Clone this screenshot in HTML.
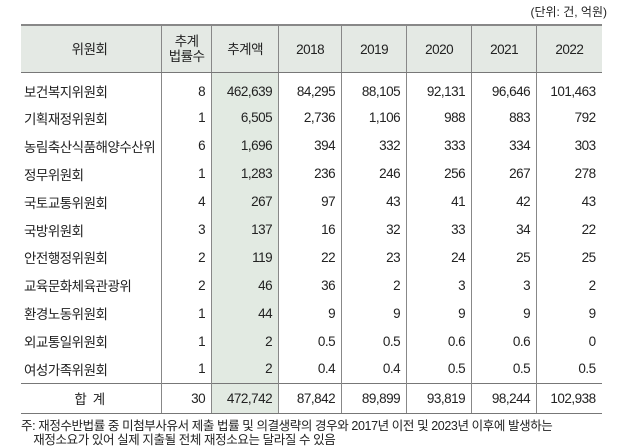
<!DOCTYPE html><html><head><meta charset="utf-8"><style>
body{margin:0;width:621px;height:448px;background:#fff;font-family:"Liberation Sans","Noto Sans CJK KR",sans-serif;color:#222;position:relative;overflow:hidden}
.unit{position:absolute;right:14px;top:3px;font-size:12px}
table{position:absolute;left:21px;top:24px;border-collapse:collapse;font-size:13.5px;letter-spacing:-0.5px}
td,th{padding:0 6px;height:27.9px;border-left:1px solid #888;white-space:nowrap;text-align:right;font-weight:normal}
td:first-child,th:first-child{border-left:none;text-align:left;padding-left:3px}
thead th{background:#e4e9e4;text-align:center;height:46px;border-top:2px solid #888;border-bottom:1px solid #777;line-height:15px}
thead th:first-child{text-align:center}
.g{background:#e2eae2}
tbody tr:first-child td{padding-top:5px;height:26px}
tr.tot td{border-top:1px solid #777;border-bottom:1px solid #777;height:29px}
tr.tot td:first-child{text-align:center}
.note{position:absolute;left:21px;top:419px;font-size:12.5px;line-height:14px;letter-spacing:-0.4px}
</style></head><body>
<div class="unit">(단위: 건, 억원)</div>
<table>
<colgroup><col style="width:138px"><col style="width:50px"><col style="width:67px"><col style="width:63px"><col style="width:65px"><col style="width:65px"><col style="width:65px"><col style="width:65px"></colgroup>
<thead><tr><th>위원회</th><th>추계<br>법률수</th><th>추계액</th><th>2018</th><th>2019</th><th>2020</th><th>2021</th><th>2022</th></tr></thead>
<tbody>
<tr><td>보건복지위원회</td><td>8</td><td class="g">462,639</td><td>84,295</td><td>88,105</td><td>92,131</td><td>96,646</td><td>101,463</td></tr>
<tr><td>기획재정위원회</td><td>1</td><td class="g">6,505</td><td>2,736</td><td>1,106</td><td>988</td><td>883</td><td>792</td></tr>
<tr><td>농림축산식품해양수산위</td><td>6</td><td class="g">1,696</td><td>394</td><td>332</td><td>333</td><td>334</td><td>303</td></tr>
<tr><td>정무위원회</td><td>1</td><td class="g">1,283</td><td>236</td><td>246</td><td>256</td><td>267</td><td>278</td></tr>
<tr><td>국토교통위원회</td><td>4</td><td class="g">267</td><td>97</td><td>43</td><td>41</td><td>42</td><td>43</td></tr>
<tr><td>국방위원회</td><td>3</td><td class="g">137</td><td>16</td><td>32</td><td>33</td><td>34</td><td>22</td></tr>
<tr><td>안전행정위원회</td><td>2</td><td class="g">119</td><td>22</td><td>23</td><td>24</td><td>25</td><td>25</td></tr>
<tr><td>교육문화체육관광위</td><td>2</td><td class="g">46</td><td>36</td><td>2</td><td>3</td><td>3</td><td>2</td></tr>
<tr><td>환경노동위원회</td><td>1</td><td class="g">44</td><td>9</td><td>9</td><td>9</td><td>9</td><td>9</td></tr>
<tr><td>외교통일위원회</td><td>1</td><td class="g">2</td><td>0.5</td><td>0.5</td><td>0.6</td><td>0.6</td><td>0</td></tr>
<tr><td>여성가족위원회</td><td>1</td><td class="g">2</td><td>0.4</td><td>0.4</td><td>0.5</td><td>0.5</td><td>0.5</td></tr>
<tr class="tot"><td>합 &nbsp;계</td><td>30</td><td class="g">472,742</td><td>87,842</td><td>89,899</td><td>93,819</td><td>98,244</td><td>102,938</td></tr>
</tbody></table>
<div class="note">주: 재정수반법률 중 미첨부사유서 제출 법률 및 의결생략의 경우와 2017년 이전 및 2023년 이후에 발생하는<br>&nbsp;&nbsp;&nbsp;&nbsp;재정소요가 있어 실제 지출될 전체 재정소요는 달라질 수 있음</div>
</body></html>
